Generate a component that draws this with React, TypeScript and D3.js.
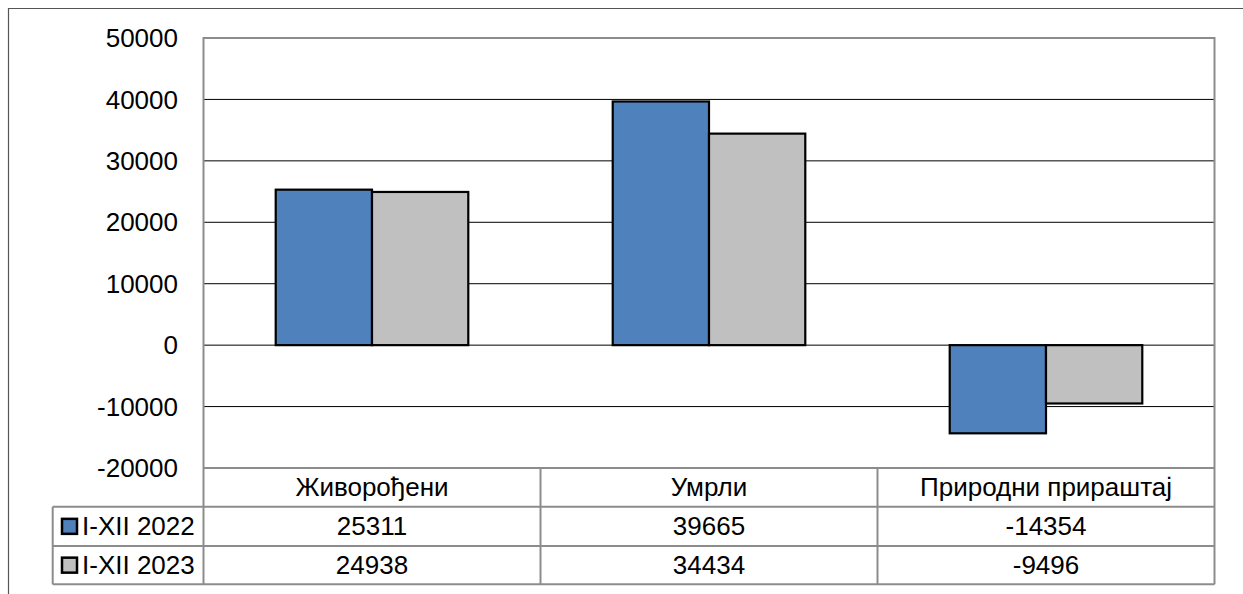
import * as d3 from "d3";

const categories = ["Живорођени", "Умрли", "Природни прираштај"];
const seriesNames = ["I-XII 2022", "I-XII 2023"];
const values2022 = [25311, 39665, -14354];
const values2023 = [24938, 34434, -9496];
const yTicks = [-20000, -10000, 0, 10000, 20000, 30000, 40000, 50000];

const colors = ["#4F81BD", "#C0C0C0"];
const font = "'Liberation Sans', Arial, sans-serif";

export default function App() {
  const width = 1243;
  const height = 594;
  const plot = { left: 203.5, right: 1214.5, top: 38, bottom: 468 };
  const rowBottoms = [506.7, 546, 584.3];
  const legendLeft = 52.7;

  const series = [values2022, values2023];

  const x = d3.scaleBand<string>().domain(categories).range([plot.left, plot.right]).padding(0);
  const xInner = d3
    .scaleBand<string>()
    .domain(seriesNames)
    .range([0, x.bandwidth()])
    .paddingInner(0)
    .paddingOuter(0.75);
  const y = d3.scaleLinear().domain([-20000, 50000]).range([plot.bottom, plot.top]);

  const grid = "#000";
  const tableLine = "#8c8c8c";
  const fs = 26;

  return (
    <svg
      width={width}
      height={height}
      style={{ position: "absolute", left: 0, top: 0, background: "#fff" }}
      fontFamily={font}
    >
      <rect x={0} y={0} width={width} height={height} fill="#fff" />
      {/* outer chart frame */}
      <path d={`M8.5,${height} V8.5 H${width}`} fill="none" stroke="#555" strokeWidth={1.2} />

      {/* gridlines */}
      {yTicks
        .filter((t) => t !== -20000 && t !== 50000)
        .map((t) => (
          <line key={t} x1={plot.left} x2={plot.right} y1={y(t)} y2={y(t)} stroke={grid} strokeWidth={1} />
        ))}

      {/* bars */}
      {categories.map((c, ci) =>
        seriesNames.map((s, si) => {
          const v = series[si][ci];
          const x0 = (x(c) ?? 0) + (xInner(s) ?? 0);
          const y0 = Math.min(y(v), y(0));
          const h = Math.abs(y(v) - y(0));
          return (
            <rect
              key={c + s}
              x={x0}
              y={y0}
              width={xInner.bandwidth()}
              height={h}
              fill={colors[si]}
              stroke="#000"
              strokeWidth={2.2}
            />
          );
        })
      )}

      {/* plot border */}
      <path
        d={`M${plot.left},${plot.bottom} V${plot.top} H${plot.right} V${plot.bottom}`}
        fill="none"
        stroke={tableLine}
        strokeWidth={2}
      />

      {/* y tick labels */}
      {yTicks.map((t) => (
        <text
          key={t}
          x={178}
          y={y(t)}
          dy="0.35em"
          textAnchor="end"
          fontSize={fs}
          fill="#000"
        >
          {t}
        </text>
      ))}

      {/* data table */}
      <g stroke={tableLine} strokeWidth={2} fill="none">
        <line x1={plot.left} x2={plot.right} y1={plot.bottom} y2={plot.bottom} />
        <line x1={legendLeft} x2={plot.right} y1={rowBottoms[0]} y2={rowBottoms[0]} />
        <line x1={legendLeft} x2={plot.right} y1={rowBottoms[1]} y2={rowBottoms[1]} />
        <line x1={legendLeft} x2={plot.right} y1={rowBottoms[2]} y2={rowBottoms[2]} />
        <line x1={legendLeft} x2={legendLeft} y1={rowBottoms[0]} y2={rowBottoms[2]} />
        {categories.map((c) => (
          <line key={c} x1={x(c)} x2={x(c)} y1={plot.bottom} y2={rowBottoms[2]} />
        ))}
        <line x1={plot.right} x2={plot.right} y1={plot.bottom} y2={rowBottoms[2]} />
      </g>

      {categories.map((c) => (
        <text
          key={c}
          x={(x(c) ?? 0) + x.bandwidth() / 2}
          y={(plot.bottom + rowBottoms[0]) / 2}
          dy="0.35em"
          textAnchor="middle"
          fontSize={fs}
        >
          {c}
        </text>
      ))}

      {seriesNames.map((s, si) => {
        const top = rowBottoms[si];
        const bottom = rowBottoms[si + 1];
        const cy = (top + bottom) / 2;
        return (
          <g key={s}>
            <rect x={62} y={cy - 7.5} width={15} height={15} fill={colors[si]} stroke="#000" strokeWidth={2.5} />
            <text x={82} y={cy} dy="0.35em" fontSize={fs}>
              {s}
            </text>
            {categories.map((c, ci) => (
              <text
                key={c}
                x={(x(c) ?? 0) + x.bandwidth() / 2}
                y={cy}
                dy="0.35em"
                textAnchor="middle"
                fontSize={fs}
              >
                {series[si][ci]}
              </text>
            ))}
          </g>
        );
      })}
    </svg>
  );
}
